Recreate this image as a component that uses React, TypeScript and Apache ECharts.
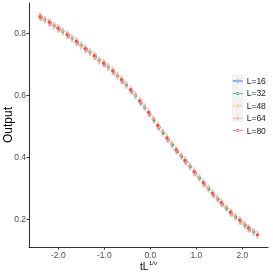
import React, { useEffect, useRef } from "react";
import * as echarts from "echarts";

const SERIES_NAMES = ["L=16", "L=32", "L=48", "L=64", "L=80"];
const COLORS = ["#2a6be8", "#14a86a", "#ffc46a", "#ff9f8c", "#ff4a4a"];

const X_L16 = [-2.37, -2.17, -1.98, -1.78, -1.58, -1.39, -1.19, -0.99, -0.79, -0.6, -0.4, -0.2, -0.01, 0.19, 0.39, 0.59, 0.78, 0.98, 1.18, 1.38, 1.57, 1.77, 1.97, 2.16];
const Y_L16 = [0.851, 0.833, 0.814, 0.793, 0.771, 0.748, 0.725, 0.701, 0.675, 0.646, 0.613, 0.576, 0.539, 0.497, 0.457, 0.419, 0.385, 0.349, 0.313, 0.279, 0.249, 0.219, 0.193, 0.168];

const X_L32 = [-2.29, -2.09, -1.9, -1.7, -1.5, -1.31, -1.11, -0.91, -0.71, -0.52, -0.32, -0.12, 0.08, 0.28, 0.48, 0.68, 0.87, 1.07, 1.27, 1.47, 1.66, 1.86, 2.06, 2.25];
const Y_L32 = [0.844, 0.825, 0.806, 0.784, 0.761, 0.739, 0.713, 0.691, 0.663, 0.633, 0.599, 0.561, 0.52, 0.479, 0.44, 0.403, 0.37, 0.333, 0.298, 0.265, 0.235, 0.207, 0.181, 0.159];

const X_L48 = [-2.38, -2.18, -1.99, -1.79, -1.59, -1.4, -1.2, -1.0, -0.8, -0.61, -0.41, -0.21, -0.02, 0.18, 0.38, 0.58, 0.77, 0.97, 1.17, 1.37, 1.56, 1.76, 1.96, 2.15];
const Y_L48 = [0.852, 0.834, 0.815, 0.794, 0.772, 0.749, 0.726, 0.702, 0.676, 0.648, 0.615, 0.578, 0.541, 0.499, 0.459, 0.421, 0.386, 0.35, 0.315, 0.281, 0.25, 0.22, 0.194, 0.17];

const X_L64 = [-2.3, -2.1, -1.91, -1.71, -1.51, -1.32, -1.12, -0.92, -0.72, -0.53, -0.33, -0.13, 0.06, 0.26, 0.46, 0.66, 0.85, 1.05, 1.25, 1.45, 1.64, 1.84, 2.04, 2.23];
const Y_L64 = [0.845, 0.826, 0.807, 0.785, 0.76, 0.74, 0.712, 0.692, 0.664, 0.635, 0.601, 0.563, 0.524, 0.483, 0.444, 0.406, 0.372, 0.336, 0.301, 0.268, 0.238, 0.21, 0.184, 0.161];

const X_L80 = [-2.4, -2.2, -2.01, -1.81, -1.61, -1.42, -1.22, -1.02, -0.82, -0.63, -0.43, -0.23, -0.04, 0.16, 0.36, 0.56, 0.75, 0.95, 1.15, 1.35, 1.54, 1.74, 1.94, 2.13, 2.33];
const Y_L80 = [0.854, 0.836, 0.817, 0.796, 0.774, 0.751, 0.728, 0.704, 0.679, 0.651, 0.618, 0.582, 0.545, 0.503, 0.463, 0.424, 0.39, 0.354, 0.318, 0.284, 0.254, 0.223, 0.197, 0.172, 0.15];

const ERRORS = [0.011, 0.012, 0.012, 0.013, 0.014];

const X_TICKS = [-2, -1, 0, 1, 2];
const Y_TICKS = [0.2, 0.4, 0.6, 0.8];

const XS = [X_L16, X_L32, X_L48, X_L64, X_L80];
const YS = [Y_L16, Y_L32, Y_L48, Y_L64, Y_L80];

const FONT = "'Liberation Sans', Arial, sans-serif";

export default function App() {
  const ref = useRef<HTMLDivElement>(null);
  useEffect(() => {
    if (!ref.current) return;
    const chart = echarts.init(ref.current, null, { renderer: "svg" });
    const series = SERIES_NAMES.map((name, i) => {
      const color = COLORS[i];
      return {
        name,
        type: "custom",
        color,
        data: XS[i].map((x, j) => [x, YS[i][j], ERRORS[i]]),
        encode: { x: 0, y: 1 },
        renderItem: (params: any, api: any) => {
          const x = api.value(0);
          const y = api.value(1);
          const e = api.value(2);
          const p = api.coord([x, y]);
          const hi = api.coord([x, y + e]);
          const lo = api.coord([x, y - e]);
          return {
            type: "group",
            children: [
              {
                type: "line",
                shape: { x1: p[0], y1: hi[1], x2: p[0], y2: lo[1] },
                style: { stroke: color, lineWidth: 2.2, opacity: 0.3 },
              },
              {
                type: "circle",
                shape: { cx: p[0], cy: p[1], r: 1.6 },
                style: { fill: color },
              },
            ],
          };
        },
      };
    });
    chart.setOption({
      animation: false,
      textStyle: { fontFamily: FONT },
      grid: { left: 29, right: 5, top: 3, bottom: 26, containLabel: false, outerBoundsMode: "none" },
      graphic: [
        {
          type: "rect",
          shape: { x: 232, y: 75, width: 11, height: 47 },
          style: { fill: "#f2f2f2" },
          z: -1,
        },
      ],
      legend: {
        orient: "vertical",
        left: 232.7,
        top: 76.5,
        padding: 0,
        itemWidth: 10,
        itemHeight: 6,
        itemGap: 3.4,
        textStyle: { fontSize: 8.5, color: "#1a1a1a", fontFamily: FONT, padding: [0, 0, 0, -1] },
        data: SERIES_NAMES.map((n) => ({
          name: n,
          icon: "path://M0,2.6h10v0.8h-10z M5,1.5a1.5,1.5 0 1,0 0.001,0z",
        })),
      },
      xAxis: {
        type: "value",
        min: -2.637,
        max: 2.559,
        splitLine: { show: false },
        axisLine: { show: true, onZero: false, lineStyle: { color: "#333", width: 1.1 } },
        axisTick: { show: true, length: 2.5, customValues: X_TICKS, lineStyle: { color: "#333" } },
        axisLabel: {
          customValues: X_TICKS,
          formatter: (v: number) => v.toFixed(1),
          fontSize: 8.5,
          color: "#4d4d4d",
          margin: 3,
          fontFamily: FONT,
        },
        name: "{a|tL}{b|1/ν}",
        nameLocation: "middle",
        nameMoveOverlap: false,
        nameGap: 13,
        nameTextStyle: {
          rich: {
            a: { fontSize: 10, color: "#000", fontFamily: FONT },
            b: { fontSize: 6, color: "#000", fontFamily: FONT, padding: [0, 0, 6, 0.5] },
          },
        },
      },
      yAxis: {
        type: "value",
        min: 0.1105,
        max: 0.898,
        splitLine: { show: false },
        axisLine: { show: true, onZero: false, lineStyle: { color: "#333", width: 1.1 } },
        axisTick: { show: true, length: 2.5, customValues: Y_TICKS, lineStyle: { color: "#333" } },
        axisLabel: {
          customValues: Y_TICKS,
          formatter: (v: number) => v.toFixed(1),
          fontSize: 8.5,
          color: "#4d4d4d",
          margin: 3,
          fontFamily: FONT,
        },
        name: "Output",
        nameLocation: "middle",
        nameMoveOverlap: false,
        nameRotate: 90,
        nameGap: 15,
        nameTextStyle: { fontSize: 12, color: "#000", fontFamily: FONT },
      },
      series,
    });
    return () => chart.dispose();
  }, []);
  return (
    <div
      ref={ref}
      style={{ position: "fixed", left: 0, top: 0, width: 273, height: 273 }}
    />
  );
}
